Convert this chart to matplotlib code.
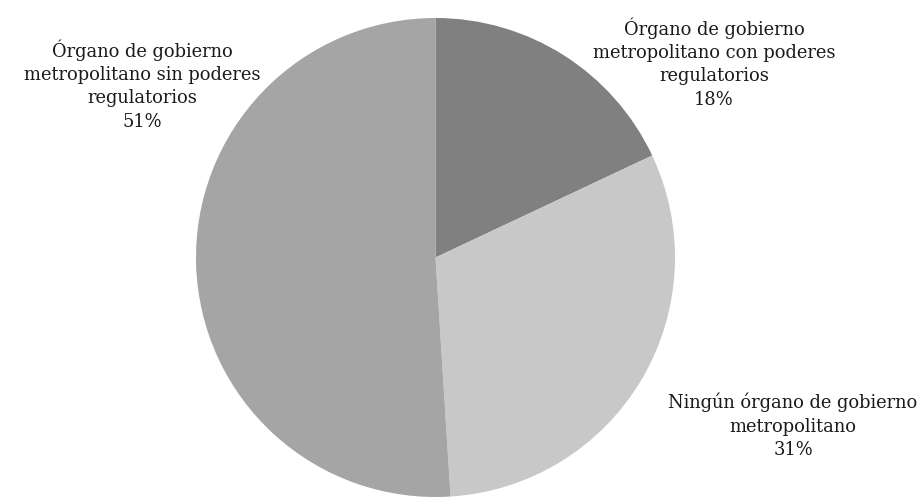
import matplotlib
matplotlib.use("Agg")
import matplotlib.pyplot as plt

# Shares of metropolitan areas by type of governing body
labels = [
    "Órgano de gobierno\nmetropolitano con poderes\nregulatorios",
    "Ningún órgano de gobierno\nmetropolitano",
    "Órgano de gobierno\nmetropolitano sin poderes\nregulatorios",
]
shares = [18, 31, 51]
colors = ["#808080", "#c8c8c8", "#a5a5a5"]

W, H = 922, 502
fig = plt.figure(figsize=(W / 100, H / 100), dpi=100)

# pie circle: centre (435.5, 258.5) px, radius 239.5 px
cx, cy, r = 435.5, 258.5, 239.5
ax = fig.add_axes([(cx - r) / W, (H - cy - r) / H, 2 * r / W, 2 * r / H])
ax.pie(shares, colors=colors, startangle=90, counterclock=False,
       radius=1, wedgeprops=dict(linewidth=0))
ax.set_xlim(-1, 1)
ax.set_ylim(-1, 1)
ax.set_aspect("equal")
ax.axis("off")

# label block centres in pixels
label_pos = [(714, 63), (793, 426), (142, 85)]
for lab, val, (px, py) in zip(labels, shares, label_pos):
    fig.text(px / W, 1 - py / H, f"{lab}\n{val}%", ha="center", va="center",
             fontsize=12.9, family="DejaVu Serif", color="#1a1a1a",
             linespacing=1.38)

fig.savefig("out.png", dpi=100)
